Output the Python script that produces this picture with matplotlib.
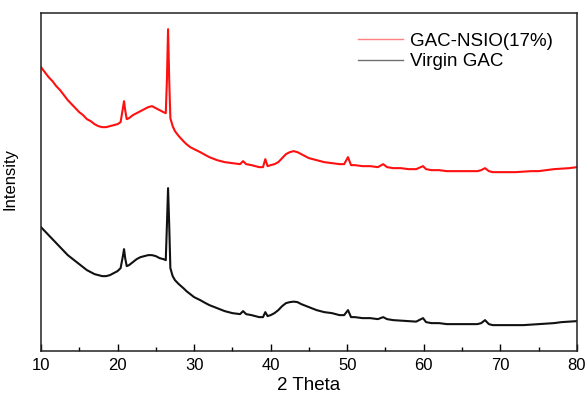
import matplotlib
matplotlib.use('Agg')
import matplotlib.pyplot as plt
import numpy as np

plt.rcParams['font.family'] = ['Liberation Sans', 'DejaVu Sans']

# 2 theta positions (degrees)
two_theta = [10, 10.5, 11, 11.5, 12, 12.5, 13, 13.5, 14, 14.5, 15, 15.5, 16, 16.5, 17, 17.5,
             18, 18.5, 19, 19.5, 20, 20.4, 20.7, 20.85, 21.0, 21.2, 21.5, 22, 22.5, 23, 23.5,
             24, 24.5, 25, 25.5, 26, 26.3, 26.45, 26.6, 26.75, 26.9, 27.2, 27.5, 28, 28.6, 29,
             29.5, 30, 30.8, 31.5, 32, 33, 34, 35, 36, 36.4, 36.8, 37.5, 38, 38.5, 39, 39.3,
             39.6, 40, 40.5, 41, 41.5, 42, 42.5, 43, 43.5, 44, 44.5, 45, 46, 47, 48, 49, 49.6,
             50.1, 50.5, 51, 52, 53, 54, 54.7, 55.2, 56, 57, 58, 59, 59.9, 60.3, 61, 62, 63, 64,
             65, 66, 67, 67.5, 68, 68.5, 69, 70, 71, 72, 73, 74, 75, 76, 77, 78, 79, 80]

# GAC-NSIO(17%) intensity (arbitrary units, offset curve)
gac_nsio = [284, 279, 274, 270, 265, 261, 256, 251, 247, 243, 239, 236, 232, 230, 227, 225,
            224, 224, 225, 226, 227, 229, 243, 250, 241, 232, 233, 236, 238, 240, 242,
            244, 245, 243, 241, 239, 238, 271, 322, 271, 233, 225, 220, 215, 210, 207,
            204, 202, 199, 196, 194, 191, 189, 188, 187, 190, 187, 186, 185, 184, 184, 192,
            185, 186, 187, 189, 193, 197, 199, 200, 199, 197, 195, 193, 191, 189, 188, 187, 187,
            194, 186, 186, 185, 185, 184, 187, 184, 183, 183, 182, 182, 185, 182, 181, 181, 180, 180,
            180, 180, 180, 181, 183, 180, 179, 179, 179, 179, 179.5, 180, 180, 181, 182, 182.5, 183, 184]

# Virgin GAC intensity
virgin_gac = [124, 120, 116, 112, 108, 104, 100, 96, 93, 90, 87, 84, 81, 79, 77, 76,
              75, 75, 76, 78, 80, 83, 95, 102, 93, 85, 86, 89, 92, 94, 95,
              96, 96, 95, 93, 92, 91, 126, 163, 126, 83, 75, 71, 67, 63, 60,
              57, 54, 51, 48, 46, 43, 40, 38, 37, 40, 37, 36, 35, 34, 34, 39,
              35, 36, 38, 41, 45, 48, 49, 49.5, 49, 47, 45.5, 44, 41, 39, 38, 36, 36,
              41, 34, 34, 33, 33, 32, 34, 32, 31, 30.5, 30, 29.5, 33, 29, 28, 28, 27, 27,
              27, 27, 27, 28, 31, 27, 26, 26, 26, 26, 26, 26.5, 27, 27.5, 28, 29, 29.5, 30]

fig = plt.figure(figsize=(5.87, 3.99), dpi=100)
ax = fig.add_axes([0.0698, 0.120, 0.913, 0.847])

ax.plot(two_theta, gac_nsio, color='#ff1010', lw=1.5, label='GAC-NSIO(17%)')
ax.plot(two_theta, virgin_gac, color='#111111', lw=1.5, label='Virgin GAC')

ax.set_xlim(10, 80)
ax.set_ylim(0, 338)
ax.set_xticks(np.arange(10, 81, 10))
ax.set_xticks(np.arange(15, 80, 10), minor=True)
ax.set_yticks([])
ax.tick_params(axis='x', which='both', direction='in', labelsize=12, width=1, pad=5)
ax.tick_params(axis='x', which='major', length=5)
ax.tick_params(axis='x', which='minor', length=3)
for s in ax.spines.values():
    s.set_linewidth(1.1)
    s.set_color('#222222')

ax.set_xlabel('2 Theta', fontsize=13.5, labelpad=3)
ax.set_ylabel('Intensity', fontsize=12, labelpad=12)
ax.yaxis.set_label_coords(-0.043, 0.51)

leg = ax.legend(loc='upper left', frameon=False, fontsize=13.5, handlelength=2.4,
                handletextpad=0.4, bbox_to_anchor=(0.591, 0.943), labelspacing=0.2,
                borderpad=0, borderaxespad=0)
leg.get_lines()[0].set_color('#ff8080')
leg.get_lines()[1].set_color('#707070')
for l in leg.get_lines():
    l.set_linewidth(1.0)

fig.savefig('out.png', dpi=100)
